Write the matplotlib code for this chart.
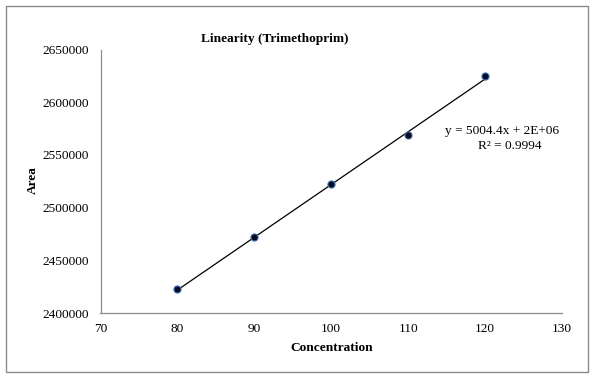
import matplotlib
matplotlib.use("Agg")
import matplotlib.pyplot as plt
import numpy as np
from matplotlib.patches import Rectangle

concentration = [80, 90, 100, 110, 120]
area = [2422500, 2472000, 2522000, 2568500, 2624500]
x_ticks = [70, 80, 90, 100, 110, 120, 130]
y_ticks = [2400000, 2450000, 2500000, 2550000, 2600000, 2650000]

plt.rcParams['font.family'] = ['Liberation Serif', 'DejaVu Serif']
FS = 9.6

fig = plt.figure(figsize=(5.96, 3.80), dpi=100)
fig.patches.append(Rectangle((5.5/596, 1-372/380), 582.5/596, 366.5/380, transform=fig.transFigure,
                             fill=False, edgecolor='#8c8c8c', linewidth=1.0))
ax = fig.add_axes([100.5/596, 1-313/380, 461.5/596, 263.5/380])

slope, intercept = np.polyfit(concentration, area, 1)
xs = np.array([min(concentration), max(concentration)])
ax.plot(xs, slope*xs + intercept, color='black', linewidth=0.9, zorder=2)
ax.scatter(concentration, area, s=26, facecolor='#0a0a1e', edgecolor='#3a6fb0', linewidth=0.8, zorder=3)

ax.set_xlim(70, 130)
ax.set_ylim(2400000, 2650000)
ax.set_xticks(x_ticks)
ax.set_yticks(y_ticks)
ax.set_xticklabels([str(t) for t in x_ticks], fontsize=FS)
ax.set_yticklabels([str(t) for t in y_ticks], fontsize=FS)
ax.tick_params(length=0)
ax.tick_params(axis='x', pad=7)
ax.tick_params(axis='y', pad=8.6)
for s in ['top', 'right']:
    ax.spines[s].set_visible(False)
for s in ['left', 'bottom']:
    ax.spines[s].set_color('#8c8c8c')
    ax.spines[s].set_linewidth(0.9)

fig.text(275/596, 1-39/380, 'Linearity (Trimethoprim)', ha='center', va='center', fontsize=FS, fontweight='bold')
fig.text(331.5/596, 1-348/380, 'Concentration', ha='center', va='center', fontsize=FS, fontweight='bold')
fig.text(33/596, 1-180/380, 'Area', ha='center', va='center', fontsize=FS, fontweight='bold', rotation=90)
fig.text(502/596, 1-131/380, 'y = 5004.4x + 2E+06', ha='center', va='center', fontsize=FS)
fig.text(510/596, 1-146/380, 'R² = 0.9994', ha='center', va='center', fontsize=FS)

fig.savefig('out.png', dpi=100)
